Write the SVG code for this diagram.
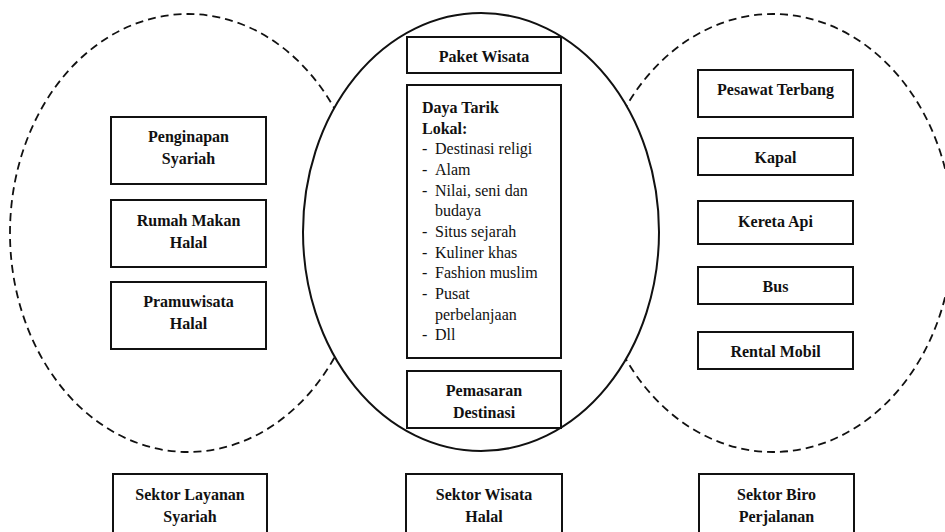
<svg xmlns="http://www.w3.org/2000/svg" width="945" height="532" viewBox="0 0 945 532">
<style>
.dash{fill:none;stroke:#111;stroke-width:1.8;stroke-dasharray:8 5}
.main{fill:#fff;stroke:#111;stroke-width:2}
.box{fill:#fff;stroke:#111;stroke-width:2}
text{font-family:'Liberation Serif','Times New Roman',serif;font-size:16px;fill:#111}
.b{font-weight:bold;text-anchor:middle}
.h{font-weight:bold}
</style>
<rect width="945" height="532" fill="#fff"/>
<g id="ellipses">
<ellipse class="dash" cx="188" cy="233" rx="178" ry="219"/>
<ellipse class="dash" cx="773" cy="233" rx="180" ry="219"/>
<ellipse class="main" cx="481" cy="232" rx="178" ry="219"/>
</g>
<g id="connectors"></g>
<g id="penginapan"><rect class="box" x="111" y="117" width="155" height="67"/><text class="b" x="188.5" y="142">Penginapan</text><text class="b" x="188.5" y="164">Syariah</text></g>
<g id="rumah-makan"><rect class="box" x="111" y="200" width="155" height="67"/><text class="b" x="188.5" y="226">Rumah Makan</text><text class="b" x="188.5" y="248">Halal</text></g>
<g id="pramuwisata"><rect class="box" x="111" y="282" width="155" height="67"/><text class="b" x="188.5" y="307">Pramuwisata</text><text class="b" x="188.5" y="329">Halal</text></g>
<g id="paket-wisata"><rect class="box" x="407" y="37" width="154" height="36"/><text class="b" x="484" y="62">Paket Wisata</text></g>
<g id="daya-tarik"><rect class="box" x="407" y="85" width="154" height="273"/>
<text class="h" x="422" y="113">Daya Tarik</text>
<text class="h" x="422" y="133.6">Lokal:</text>
<text x="422" y="154.3">-</text><text x="435" y="154.3">Destinasi religi</text>
<text x="422" y="175">-</text><text x="435" y="175">Alam</text>
<text x="422" y="195.6">-</text><text x="435" y="195.6">Nilai, seni dan</text>
<text x="435" y="216.3">budaya</text>
<text x="422" y="236.9">-</text><text x="435" y="236.9">Situs sejarah</text>
<text x="422" y="257.6">-</text><text x="435" y="257.6">Kuliner khas</text>
<text x="422" y="278.2">-</text><text x="435" y="278.2">Fashion muslim</text>
<text x="422" y="298.9">-</text><text x="435" y="298.9">Pusat</text>
<text x="435" y="319.5">perbelanjaan</text>
<text x="422" y="340.2">-</text><text x="435" y="340.2">Dll</text>
</g>
<g id="pemasaran"><rect class="box" x="407" y="371" width="154" height="57"/><text class="b" x="484" y="396">Pemasaran</text><text class="b" x="484" y="418">Destinasi</text></g>
<g id="pesawat"><rect class="box" x="698" y="70" width="155" height="47"/><text class="b" x="775.5" y="95">Pesawat Terbang</text></g>
<g id="kapal"><rect class="box" x="698" y="138" width="155" height="37"/><text class="b" x="775.5" y="163">Kapal</text></g>
<g id="kereta"><rect class="box" x="698" y="201" width="155" height="43"/><text class="b" x="775.5" y="227">Kereta Api</text></g>
<g id="bus"><rect class="box" x="698" y="267" width="155" height="37"/><text class="b" x="775.5" y="292">Bus</text></g>
<g id="rental"><rect class="box" x="698" y="332" width="155" height="37"/><text class="b" x="775.5" y="357">Rental Mobil</text></g>
<g id="sektor-layanan"><rect class="box" x="113" y="474" width="154" height="70"/><text class="b" x="190" y="500">Sektor Layanan</text><text class="b" x="190" y="522">Syariah</text></g>
<g id="sektor-wisata"><rect class="box" x="406" y="474" width="156" height="70"/><text class="b" x="484" y="500">Sektor Wisata</text><text class="b" x="484" y="522">Halal</text></g>
<g id="sektor-biro"><rect class="box" x="699" y="474" width="155" height="70"/><text class="b" x="776.5" y="500">Sektor Biro</text><text class="b" x="776.5" y="522">Perjalanan</text></g>
</svg>
